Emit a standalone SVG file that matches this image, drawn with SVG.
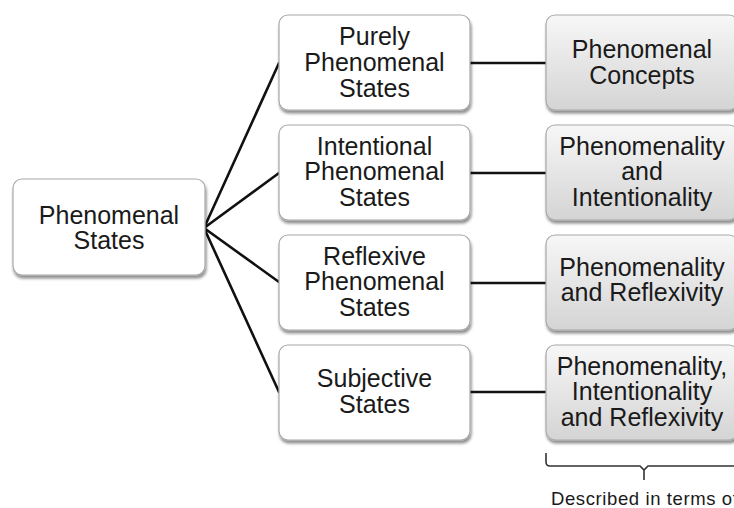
<svg xmlns="http://www.w3.org/2000/svg" width="734" height="508" viewBox="0 0 734 508">
  <defs>
    <linearGradient id="greyFill" x1="0" y1="0" x2="0" y2="1">
      <stop offset="0" stop-color="#f7f7f7"/>
      <stop offset="1" stop-color="#d4d4d4"/>
    </linearGradient>
    <filter id="shadow" x="-10%" y="-10%" width="125%" height="130%">
      <feGaussianBlur in="SourceAlpha" stdDeviation="1.6"/>
      <feOffset dx="1" dy="2.5" result="b"/>
      <feComponentTransfer><feFuncA type="linear" slope="0.45"/></feComponentTransfer>
      <feMerge><feMergeNode/><feMergeNode in="SourceGraphic"/></feMerge>
    </filter>
    <style>
      .box { fill: #ffffff; stroke: #a8a8a8; stroke-width: 1.2; filter: url(#shadow); }
      .box.grey { fill: url(#greyFill); }
      .label { font-family: "Liberation Sans", Arial, Helvetica, sans-serif; font-size: 25px; fill: #1a1a1a; text-anchor: middle; }
      .link { stroke: #111111; stroke-width: 2.6; fill: none; stroke-linecap: round; }
      .brace { stroke: #333333; stroke-width: 1.6; fill: none; }
      .caption { font-family: "Liberation Sans", Arial, Helvetica, sans-serif; font-size: 18.5px; fill: #1a1a1a; letter-spacing: 0.6px; }
    </style>
  </defs>

  <!-- connectors -->
  <g id="connectors">
    <line class="link" x1="204" y1="228" x2="279" y2="63"/>
    <line class="link" x1="204" y1="228" x2="279" y2="173"/>
    <line class="link" x1="204" y1="228" x2="279" y2="282"/>
    <line class="link" x1="204" y1="228" x2="279" y2="392"/>
    <line class="link" x1="470" y1="63" x2="546" y2="63"/>
    <line class="link" x1="470" y1="173" x2="546" y2="173"/>
    <line class="link" x1="470" y1="283" x2="546" y2="283"/>
    <line class="link" x1="470" y1="392" x2="546" y2="392"/>
  </g>

  <!-- root -->
  <g id="node-phenomenal-states">
    <rect class="box" x="13" y="179" width="192" height="96" rx="9"/>
    <text class="label" x="109"><tspan x="109" y="224">Phenomenal</tspan><tspan x="109" y="249">States</tspan></text>
  </g>

  <!-- middle column -->
  <g id="node-purely">
    <rect class="box" x="279" y="15" width="191" height="95" rx="9"/>
    <text class="label"><tspan x="374.5" y="45">Purely</tspan><tspan x="374.5" y="71">Phenomenal</tspan><tspan x="374.5" y="97">States</tspan></text>
  </g>
  <g id="node-intentional">
    <rect class="box" x="279" y="125" width="191" height="95" rx="9"/>
    <text class="label"><tspan x="374.5" y="155">Intentional</tspan><tspan x="374.5" y="180">Phenomenal</tspan><tspan x="374.5" y="206">States</tspan></text>
  </g>
  <g id="node-reflexive">
    <rect class="box" x="279" y="235" width="191" height="95" rx="9"/>
    <text class="label"><tspan x="374.5" y="265">Reflexive</tspan><tspan x="374.5" y="290">Phenomenal</tspan><tspan x="374.5" y="316">States</tspan></text>
  </g>
  <g id="node-subjective">
    <rect class="box" x="279" y="345" width="191" height="95" rx="9"/>
    <text class="label"><tspan x="374.5" y="387">Subjective</tspan><tspan x="374.5" y="413">States</tspan></text>
  </g>

  <!-- right column -->
  <g id="node-concepts">
    <rect class="box grey" x="546" y="15" width="192" height="95" rx="9"/>
    <text class="label"><tspan x="642" y="58">Phenomenal</tspan><tspan x="642" y="84">Concepts</tspan></text>
  </g>
  <g id="node-intentionality">
    <rect class="box grey" x="546" y="125" width="192" height="95" rx="9"/>
    <text class="label"><tspan x="642" y="155">Phenomenality</tspan><tspan x="642" y="180">and</tspan><tspan x="642" y="206">Intentionality</tspan></text>
  </g>
  <g id="node-reflexivity">
    <rect class="box grey" x="546" y="235" width="192" height="95" rx="9"/>
    <text class="label"><tspan x="642" y="276">Phenomenality</tspan><tspan x="642" y="301">and Reflexivity</tspan></text>
  </g>
  <g id="node-all">
    <rect class="box grey" x="546" y="345" width="192" height="95" rx="9"/>
    <text class="label"><tspan x="642" y="375">Phenomenality,</tspan><tspan x="642" y="400">Intentionality</tspan><tspan x="642" y="426">and Reflexivity</tspan></text>
  </g>

  <!-- brace under the right column -->
  <g id="brace">
    <path class="brace" d="M546 453 V462 Q546 466 550 466 H640 L644 470 L648 466 H740 M644 470 V480"/>
    <text class="caption" x="551" y="505">Described in terms of</text>
  </g>
</svg>
